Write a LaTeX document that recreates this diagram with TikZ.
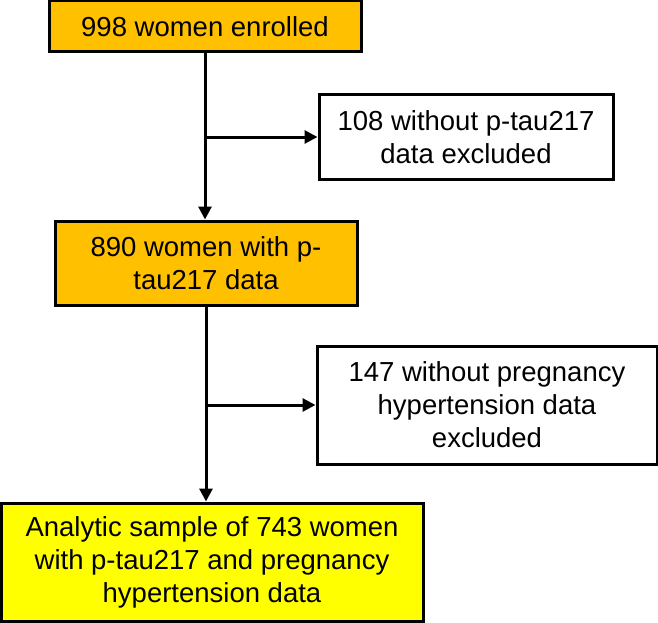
\documentclass[tikz,border=0pt]{standalone}
\usepackage{fontspec}
\setmainfont{Liberation Sans}
\usetikzlibrary{arrows.meta}
\definecolor{boxorange}{HTML}{FFC000}
\definecolor{boxyellow}{HTML}{FFFF00}
\tikzset{
  flowbox/.style={draw=black, line width=3pt, rectangle, inner sep=0pt, align=center,
    font=\fontsize{27.5}{33}\selectfont},
  orangebox/.style={flowbox, fill=boxorange},
  yellowbox/.style={flowbox, fill=boxyellow},
  whitebox/.style={flowbox, fill=white},
  flowarrow/.style={line width=3pt, -{Triangle[length=13pt,width=13pt]}}
}
\begin{document}
\begin{tikzpicture}[x=1pt,y=-1pt]
\useasboundingbox (0,0) rectangle (658,623);
\node[orangebox, minimum width=312pt, minimum height=51pt] (b1) at (205,26.5) {998 women enrolled};
\node[whitebox, minimum width=294pt, minimum height=84pt] (b2) at (466,137) {108 without p-tau217\\data excluded};
\node[orangebox, minimum width=302pt, minimum height=84pt] (b3) at (206,263) {890 women with p-\\tau217 data};
\node[whitebox, minimum width=340pt, minimum height=118pt] (b4) at (487,405) {147 without pregnancy\\hypertension data\\excluded};
\node[yellowbox, minimum width=422pt, minimum height=118pt] (b5) at (212,562) {Analytic sample of 743 women\\with p-tau217 and pregnancy\\hypertension data};
\coordinate (j1) at (b1.south |- b2.west);
\coordinate (j2) at (b3.south |- b4.west);
\draw[flowarrow] (b1.south) -- (b1.south |- b3.north);
\draw[flowarrow] (j1) -- (b2.west);
\draw[flowarrow] (b3.south) -- (b3.south |- b5.north);
\draw[flowarrow] (j2) -- (b4.west);
\end{tikzpicture}
\end{document}
